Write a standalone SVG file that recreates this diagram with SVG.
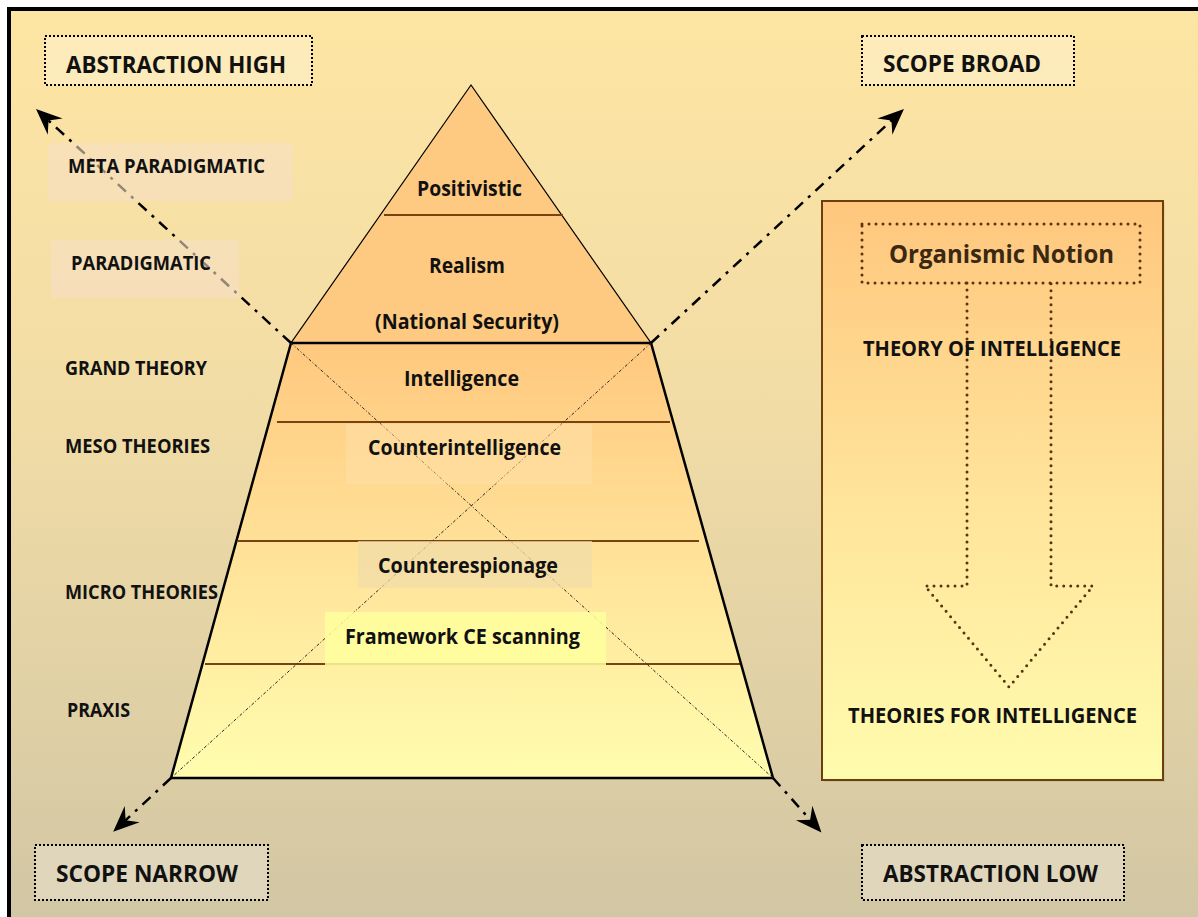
<svg xmlns="http://www.w3.org/2000/svg" width="1198" height="917" viewBox="0 0 1198 917">
  <defs>
    <linearGradient id="bg" x1="0" y1="0" x2="0" y2="1">
      <stop offset="0" stop-color="#FDE5A3"/>
      <stop offset="0.45" stop-color="#F1DCA6"/>
      <stop offset="1" stop-color="#D1C6A4"/>
    </linearGradient>
    <linearGradient id="pyr" gradientUnits="userSpaceOnUse" x1="0" y1="343" x2="0" y2="778">
      <stop offset="0" stop-color="#FFC87E"/>
      <stop offset="0.45" stop-color="#FFE097"/>
      <stop offset="1" stop-color="#FFFDAE"/>
    </linearGradient>
    <linearGradient id="panel" gradientUnits="userSpaceOnUse" x1="0" y1="201" x2="0" y2="780">
      <stop offset="0" stop-color="#FFC67D"/>
      <stop offset="0.5" stop-color="#FFE39A"/>
      <stop offset="1" stop-color="#FFFCAE"/>
    </linearGradient>
    <marker id="barb" viewBox="-40 -14 44 28" refX="-10" refY="0" markerWidth="44" markerHeight="28" markerUnits="userSpaceOnUse" orient="auto">
      <path d="M0,0 L-26,-11 L-17,0 L-26,11 Z" fill="#000"/>
    </marker>
    <style>
      .lbl { font-family: "Open Sans", Lato, "Liberation Sans", sans-serif; font-weight: 700; fill: #111; }
      .big { font-size: 23px; }
      .side { font-size: 19px; }
      .pyr { font-size: 20.5px; }
      .tag { fill: #FFFFFF; fill-opacity: 0.25; stroke: #000; stroke-width: 2; stroke-dasharray: 2 2; }
      .soft { fill: #F6E0C4; fill-opacity: 0.6; }
      .band { stroke: #7A4210; stroke-width: 2; }
      .axis { fill: none; stroke: #000; stroke-width: 2.5; stroke-dasharray: 11 7 3 7; }
      .diag { fill: none; stroke: #222; stroke-width: 1; stroke-dasharray: 3 2 1 2; }
      .dots { fill: none; stroke: #5A3310; stroke-width: 3; stroke-linecap: round; stroke-dasharray: 0 7; }
    </style>
  </defs>

  <!-- page -->
  <rect x="0" y="0" width="1198" height="917" fill="#FFFFFF"/>
  <rect x="9" y="9" width="1200" height="920" fill="url(#bg)" stroke="#000" stroke-width="4"/>

  <!-- pyramid -->
  <g id="pyramid">
    <polygon points="471,85 291,343 651,343" fill="#FECA81" stroke="#000" stroke-width="1.2"/>
    <polygon points="291,343 651,343 773,778 171,778" fill="url(#pyr)"/>
    <line x1="384" y1="215" x2="563" y2="215" class="band"/>
    <line x1="277" y1="422" x2="670" y2="422" class="band"/>
    <line x1="238" y1="541" x2="699" y2="541" class="band"/>
    <line x1="205" y1="664" x2="740" y2="664" class="band"/>
    <path d="M291,343 L171,778 L773,778 L651,343 Z" fill="none" stroke="#000" stroke-width="2.5" stroke-linejoin="miter"/>
  </g>

  <!-- connectors -->
  <g id="connectors">
    <line x1="291" y1="343" x2="773" y2="778" class="diag"/>
    <line x1="651" y1="343" x2="171" y2="778" class="diag"/>
    <line x1="291" y1="343" x2="43.4" y2="115.8" class="axis" marker-end="url(#barb)"/>
    <line x1="651" y1="343" x2="896.6" y2="115.8" class="axis" marker-end="url(#barb)"/>
    <line x1="171" y1="778" x2="120.5" y2="825" class="axis" marker-end="url(#barb)"/>
    <line x1="773" y1="778" x2="814.8" y2="825" class="axis" marker-end="url(#barb)"/>
  </g>

  <!-- level labels -->
  <g id="meta-paradigmatic"><rect x="48" y="143" width="245" height="58" class="soft"/>
    <text x="68" y="173" class="lbl side" textLength="197" lengthAdjust="spacingAndGlyphs">META PARADIGMATIC</text></g>
  <g id="paradigmatic"><rect x="51" y="240" width="188" height="58" class="soft"/>
    <text x="71" y="270" class="lbl side" textLength="140" lengthAdjust="spacingAndGlyphs">PARADIGMATIC</text></g>
  <g id="grand-theory"><text x="65" y="375" class="lbl side" textLength="142" lengthAdjust="spacingAndGlyphs">GRAND THEORY</text></g>
  <g id="meso-theories"><text x="65" y="453" class="lbl side" textLength="145" lengthAdjust="spacingAndGlyphs">MESO THEORIES</text></g>
  <g id="micro-theories"><text x="65" y="599" class="lbl side" textLength="153" lengthAdjust="spacingAndGlyphs">MICRO THEORIES</text></g>
  <g id="praxis"><text x="67" y="717" class="lbl side" textLength="63" lengthAdjust="spacingAndGlyphs">PRAXIS</text></g>

  <!-- pyramid tiers -->
  <g id="positivistic"><text x="417" y="196" class="lbl pyr" textLength="105" lengthAdjust="spacingAndGlyphs">Positivistic</text></g>
  <g id="realism">
    <text x="429" y="273" class="lbl pyr" textLength="76" lengthAdjust="spacingAndGlyphs">Realism</text>
    <text x="375" y="329" class="lbl pyr" textLength="184" lengthAdjust="spacingAndGlyphs">(National Security)</text>
  </g>
  <g id="intelligence"><text x="404" y="386" class="lbl pyr" textLength="115" lengthAdjust="spacingAndGlyphs">Intelligence</text></g>
  <g id="counterintelligence">
    <rect x="346" y="424" width="246" height="60" fill="#FFE0A8" fill-opacity="0.55"/>
    <text x="368" y="455" class="lbl pyr" textLength="193" lengthAdjust="spacingAndGlyphs">Counterintelligence</text>
  </g>
  <g id="counterespionage">
    <rect x="358" y="541" width="234" height="47" fill="#F2DCA8" fill-opacity="0.75"/>
    <text x="378" y="573" class="lbl pyr" textLength="180" lengthAdjust="spacingAndGlyphs">Counterespionage</text>
  </g>
  <g id="framework-ce-scanning">
    <rect x="325" y="612" width="281" height="53" fill="#FFFF9E" fill-opacity="0.85"/>
    <text x="345" y="644" class="lbl pyr" textLength="235" lengthAdjust="spacingAndGlyphs">Framework CE scanning</text>
  </g>

  <!-- corner tags -->
  <g id="abstraction-high"><rect x="45" y="36" width="267" height="49" class="tag"/>
    <text x="66" y="73" class="lbl big" textLength="220" lengthAdjust="spacingAndGlyphs">ABSTRACTION HIGH</text></g>
  <g id="scope-broad"><rect x="862" y="36" width="212" height="49" class="tag"/>
    <text x="883" y="72" class="lbl big" textLength="158" lengthAdjust="spacingAndGlyphs">SCOPE BROAD</text></g>
  <g id="scope-narrow"><rect x="35" y="845" width="233" height="55" class="tag"/>
    <text x="56" y="882" class="lbl big" textLength="182" lengthAdjust="spacingAndGlyphs">SCOPE NARROW</text></g>
  <g id="abstraction-low"><rect x="862" y="845" width="262" height="55" class="tag"/>
    <text x="883" y="882" class="lbl big" textLength="215" lengthAdjust="spacingAndGlyphs">ABSTRACTION LOW</text></g>

  <!-- organismic notion panel -->
  <g id="organismic-panel">
    <rect x="824" y="203" width="341" height="579" fill="#000" fill-opacity="0.06"/>
    <rect x="822" y="201" width="341" height="579" fill="url(#panel)" stroke="#6E3F0E" stroke-width="2"/>
    <path d="M967,283 L967,586 L925,586 L1009,687 L1093,586 L1051,586 L1051,283" class="dots"/>
  </g>
  <g id="organismic-notion">
    <rect x="862" y="224" width="278" height="59" class="dots"/>
    <text x="889" y="263" class="lbl" font-size="25" style="fill:#3B2812" textLength="225" lengthAdjust="spacingAndGlyphs">Organismic Notion</text>
  </g>
  <g id="theory-of-intelligence"><text x="863" y="356" class="lbl pyr" textLength="258" lengthAdjust="spacingAndGlyphs">THEORY OF INTELLIGENCE</text></g>
  <g id="theories-for-intelligence"><text x="848" y="723" class="lbl pyr" textLength="289" lengthAdjust="spacingAndGlyphs">THEORIES FOR INTELLIGENCE</text></g>
</svg>
